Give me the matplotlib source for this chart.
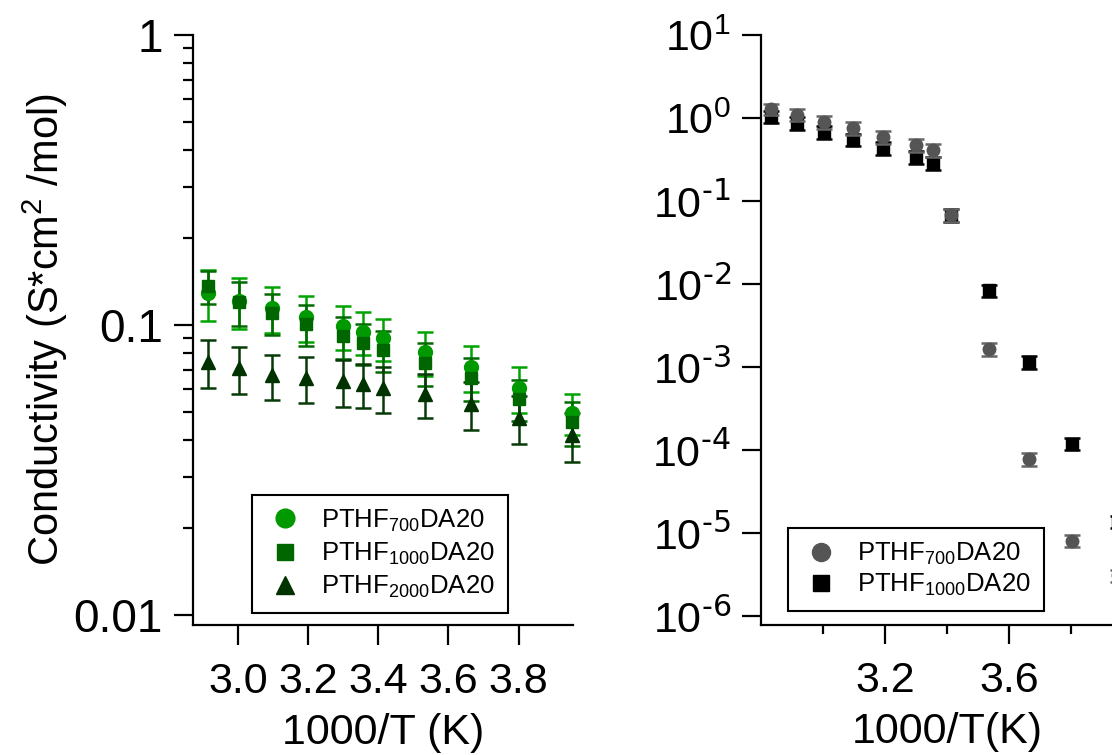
import matplotlib
matplotlib.use('Agg')
import matplotlib.pyplot as plt
from matplotlib.lines import Line2D
from matplotlib.ticker import FixedLocator, NullLocator, NullFormatter, LogLocator, FixedFormatter

plt.rcParams['font.family'] = ['Liberation Sans', 'DejaVu Sans']
plt.rcParams['mathtext.default'] = 'regular'
plt.rcParams['axes.unicode_minus'] = False

# left panel: PTHF700 / 1000 / 2000
inv_t = [2.915, 3.003, 3.096, 3.195, 3.300, 3.356, 3.413, 3.534, 3.663, 3.802, 3.953]
cond_700 = [0.129, 0.121, 0.1145, 0.1066, 0.0993, 0.0946, 0.0902, 0.0807, 0.0717, 0.0607, 0.0497]
err_700 = [0.026, 0.024, 0.021, 0.019, 0.017, 0.016, 0.015, 0.014, 0.013, 0.011, 0.008]
cond_1000 = [0.136, 0.120, 0.110, 0.1008, 0.0916, 0.0867, 0.082, 0.074, 0.0657, 0.0556, 0.0463]
err_1000 = [0.018, 0.021, 0.018, 0.016, 0.015, 0.014, 0.013, 0.0125, 0.011, 0.009, 0.008]
cond_2000 = [0.0745, 0.071, 0.067, 0.0657, 0.064, 0.0626, 0.0607, 0.0578, 0.0534, 0.0478, 0.0418]
err_2000 = [0.014, 0.013, 0.012, 0.012, 0.012, 0.011, 0.011, 0.010, 0.010, 0.009, 0.008]

# right panel: PTHF700 / 1000 over a wider range
inv_t_r = [2.833, 2.915, 3.003, 3.096, 3.195, 3.300, 3.356, 3.413, 3.534, 3.663, 3.802, 3.953]
cond_r700 = [1.28, 1.09, 0.895, 0.76, 0.59, 0.474, 0.413, 0.0685, 0.00164, 7.8e-5, 8.1e-6, 3.1e-6]
err_r700 = [0.2, 0.18, 0.15, 0.13, 0.1, 0.08, 0.07, 0.012, 0.00028, 1.3e-5, 1.4e-6, 5e-7]
cond_r1000 = [1.03, 0.87, 0.68, 0.545, 0.437, 0.34, 0.288, 0.068, 0.00838, 0.00115, 1.19e-4, 1.37e-5]
err_r1000 = [0.17, 0.15, 0.12, 0.09, 0.075, 0.058, 0.05, 0.012, 0.0014, 0.0002, 2e-5, 2.3e-6]

labels_left = ['PTHF$_{700}$DA20', 'PTHF$_{1000}$DA20', 'PTHF$_{2000}$DA20']
labels_right = ['PTHF$_{700}$DA20', 'PTHF$_{1000}$DA20']
decades_r = [1e-6, 1e-5, 1e-4, 1e-3, 1e-2, 1e-1, 1, 10]
decade_labels_r = ['10$^{\\text{-6}}$', '10$^{\\text{-5}}$', '10$^{\\text{-4}}$', '10$^{\\text{-3}}$',
                   '10$^{\\text{-2}}$', '10$^{\\text{-1}}$', '10$^{0}$', '10$^{1}$']

TICK_FS = 31
LEG_FS = 18.5


def style_axes(ax):
    for s in ['top', 'right']:
        ax.spines[s].set_visible(False)
    for s in ['left', 'bottom']:
        ax.spines[s].set_linewidth(1.6)
    ax.tick_params(which='both', direction='out', width=1.6, labelsize=TICK_FS)
    ax.tick_params(which='major', length=13.7)
    ax.tick_params(which='minor', length=7.2)
    ax.tick_params(axis='y', pad=8)
    ax.tick_params(axis='x', pad=12)


def make_legend(ax, handles, labels, anchor, spacing):
    leg = ax.legend(handles, labels, loc='lower left', bbox_to_anchor=anchor,
                    fontsize=LEG_FS, frameon=True, fancybox=False, framealpha=1,
                    borderpad=0.5, handlelength=1.6, handletextpad=0.6,
                    labelspacing=spacing, borderaxespad=0)
    leg.get_frame().set_edgecolor('black')
    leg.get_frame().set_linewidth(1.5)
    return leg


fig = plt.figure(figsize=(11.12, 7.55), dpi=100)
ax1 = fig.add_axes([0.1736, 0.1722, 0.3417, 0.7815])
ax2 = fig.add_axes([0.6844, 0.1722, 0.3345, 0.7815])

# ---- left ----
series = [
    (cond_700, err_700, 'o', '#009900', '#00a300', 10),
    (cond_1000, err_1000, 's', '#006600', '#006a00', 9),
    (cond_2000, err_2000, '^', '#003300', '#063a06', 10),
]
handles = []
for y, e, m, c, ec, ms in series:
    ax1.errorbar(inv_t, y, yerr=e, fmt=m, color=c, mec=c, ecolor=ec, ms=ms,
                 capsize=6, elinewidth=1.8, capthick=1.8, clip_on=False)
    handles.append(Line2D([], [], ls='none', marker=m, color=c, mec=c, ms=ms * 1.35))

ax1.set_yscale('log')
ax1.set_ylim(0.00924, 1)
ax1.set_xlim(2.872, 3.955)
ax1.yaxis.set_major_locator(FixedLocator([0.01, 0.1, 1]))
ax1.yaxis.set_major_formatter(FixedFormatter(['0.01', '0.1', '1']))
ax1.yaxis.set_minor_locator(LogLocator(base=10, subs=[2, 3, 4, 5, 6, 7, 8, 9]))
ax1.yaxis.set_minor_formatter(NullFormatter())
ax1.xaxis.set_major_locator(FixedLocator([3.0, 3.2, 3.4, 3.6, 3.8]))
ax1.xaxis.set_major_formatter(plt.FormatStrFormatter('%.1f'))
style_axes(ax1)
ax1.tick_params(axis='x', which='major', length=14.4)
ax1.tick_params(axis='y', labelsize=33)
ax1.set_xlabel('1000/T (K)', fontsize=TICK_FS, labelpad=8)
ax1.set_ylabel('Conductivity (S*cm$^{2}$ /mol)', fontsize=30)
ax1.yaxis.set_label_coords(-0.325, 0.5)
make_legend(ax1, handles, labels_left, (0.155, 0.02), 0.28)

# ---- right ----
ax2.errorbar(inv_t_r, cond_r1000, yerr=err_r1000, fmt='s', color='black', mec='black',
             ecolor='black', ms=8.5, capsize=6, elinewidth=1.8, capthick=1.8, zorder=2)
ax2.errorbar(inv_t_r, cond_r700, yerr=err_r700, fmt='o', color='#555555', mec='#555555',
             ecolor='#666666', ms=9, capsize=6, elinewidth=1.8, capthick=1.8, zorder=3)
handles_r = [Line2D([], [], ls='none', marker='o', color='#555555', ms=13),
             Line2D([], [], ls='none', marker='s', color='black', ms=12)]

ax2.set_yscale('log')
ax2.set_ylim(7.8e-7, 10)
ax2.set_xlim(2.8, 4.0)
ax2.yaxis.set_major_locator(FixedLocator(decades_r))
ax2.yaxis.set_major_formatter(FixedFormatter(decade_labels_r))
ax2.yaxis.set_minor_locator(NullLocator())
ax2.xaxis.set_major_locator(FixedLocator([3.2, 3.6]))
ax2.xaxis.set_major_formatter(plt.FormatStrFormatter('%.1f'))
ax2.xaxis.set_minor_locator(FixedLocator([3.0, 3.4, 3.8]))
style_axes(ax2)
ax2.tick_params(axis='x', which='minor', length=6.5)
ax2.set_xlabel('1000/T(K)', fontsize=TICK_FS, labelpad=8)
make_legend(ax2, handles_r, labels_right, (0.0726, 0.0237), 0.2)

fig.savefig('out.png', dpi=100)
